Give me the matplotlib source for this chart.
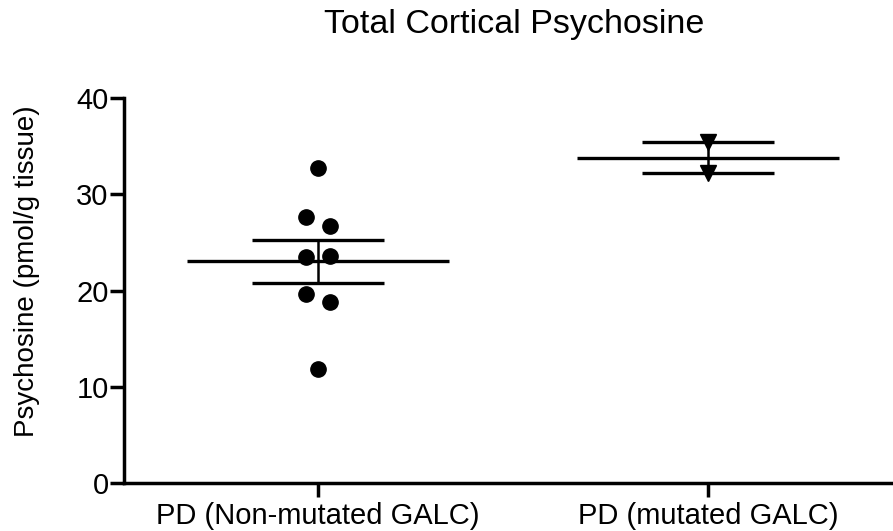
import numpy as np
import matplotlib
matplotlib.use("Agg")
import matplotlib.pyplot as plt

plt.rcParams['font.family'] = ['Liberation Sans', 'DejaVu Sans']

groups = ["PD (Non-mutated GALC)", "PD (mutated GALC)"]
non_mutated = [32.7, 27.6, 26.7, 23.5, 23.6, 19.6, 18.8, 11.8]
mutated = [35.4, 32.2]

# scatter offsets within each column (as seen in the original)
non_mutated_dx = [0.0, -0.03, 0.03, -0.03, 0.03, -0.03, 0.03, 0.0]
mutated_dx = [0.0, 0.0]

fig = plt.figure(figsize=(8.93, 5.31), dpi=100)
ax = fig.add_axes([124 / 893, 48 / 531, 1 - 124 / 893, 385 / 531])

data = [non_mutated, mutated]
offsets = [non_mutated_dx, mutated_dx]
markers = ["o", "v"]

for i, (vals, dx, mk) in enumerate(zip(data, offsets, markers)):
    vals = np.array(vals)
    mean = vals.mean()
    sem = vals.std(ddof=1) / np.sqrt(len(vals))
    ax.plot(i + np.array(dx), vals, linestyle="none", marker=mk,
            markersize=11, color="black", clip_on=False, zorder=3)
    ax.hlines(mean, i - 0.335, i + 0.335, color="black", lw=2.4, zorder=2)
    ax.hlines([mean - sem, mean + sem], i - 0.17, i + 0.17, color="black", lw=2.4, zorder=2)
    ax.vlines(i, mean - sem, mean + sem, color="black", lw=1.8, zorder=2)

ax.set_xlim(-0.497, 1.474)
ax.set_ylim(0, 40)
ax.set_yticks([0, 10, 20, 30, 40])
ax.set_xticks([0, 1])
ax.set_xticklabels(groups)

for side in ["top", "right"]:
    ax.spines[side].set_visible(False)
for side in ["left", "bottom"]:
    ax.spines[side].set_linewidth(2.5)

ax.tick_params(axis="both", direction="out", length=10, width=2.5, labelsize=21)
ax.tick_params(axis="y", pad=1)
ax.tick_params(axis="x", pad=4)

fig.text(514 / 893, 1 - 33 / 531, "Total Cortical Psychosine", ha="center", va="baseline", fontsize=24.5)
fig.text(27 / 893, 1 - 271 / 531, "Psychosine (pmol/g tissue)", rotation=90,
         ha="center", va="center", fontsize=20)

fig.savefig("out.png", dpi=100)
